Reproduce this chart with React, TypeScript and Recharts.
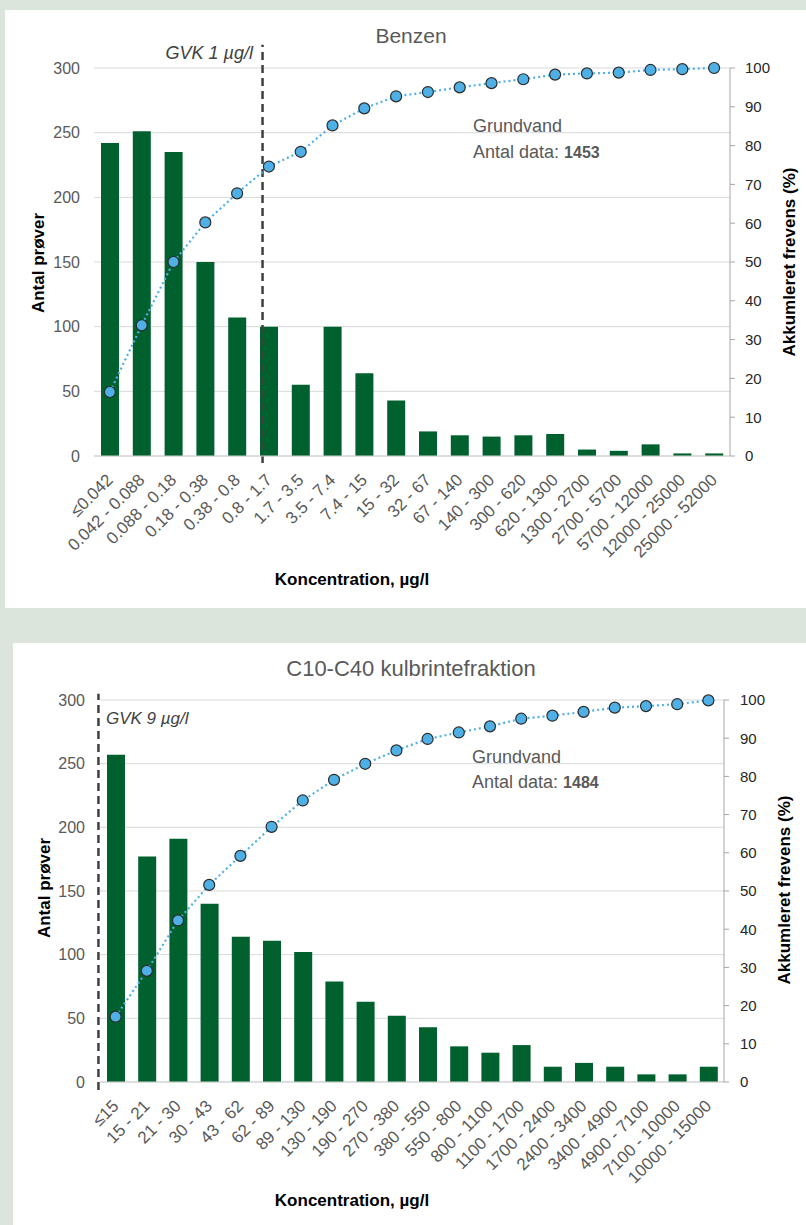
import {
  ComposedChart,
  Bar,
  Line,
  XAxis,
  YAxis,
  CartesianGrid,
  ReferenceLine,
} from 'recharts'

const FONT = '"Liberation Sans", Arial, sans-serif'
const BAR_GREEN = '#00612f'
const DOT_BLUE = '#4fb0e6'

// Benzen
const benzenCats = [
  '≤0.042', '0.042 - 0.088', '0.088 - 0.18', '0.18 - 0.38', '0.38 - 0.8',
  '0.8 - 1.7', '1.7 - 3.5', '3.5 - 7.4', '7.4 - 15', '15 - 32',
  '32 - 67', '67 - 140', '140 - 300', '300 - 620', '620 - 1300',
  '1300 - 2700', '2700 - 5700', '5700 - 12000', '12000 - 25000', '25000 - 52000',
]
const benzenCounts = [242, 251, 235, 150, 107, 100, 55, 100, 64, 43, 19, 16, 15, 16, 17, 5, 4, 9, 2, 2]
const benzenCum = [16.5, 33.7, 50.0, 60.2, 67.7, 74.6, 78.4, 85.2, 89.6, 92.7, 93.8, 95.0, 96.1, 97.1, 98.3, 98.6, 98.8, 99.5, 99.7, 100]

// C10-C40 kulbrintefraktion
const c10Cats = [
  '≤15', '15 - 21', '21 - 30', '30 - 43', '43 - 62', '62 - 89', '89 - 130',
  '130 - 190', '190 - 270', '270 - 380', '380 - 550', '550 - 800', '800 - 1100',
  '1100 - 1700', '1700 - 2400', '2400 - 3400', '3400 - 4900', '4900 - 7100',
  '7100 - 10000', '10000 - 15000',
]
const c10Counts = [257, 177, 191, 140, 114, 111, 102, 79, 63, 52, 43, 28, 23, 29, 12, 15, 12, 6, 6, 12]
const c10Cum = [17.1, 29.1, 42.3, 51.6, 59.2, 66.8, 73.7, 79.1, 83.3, 86.8, 89.8, 91.5, 93.1, 95.1, 95.9, 96.9, 98.0, 98.4, 98.9, 99.9]

const leftTicks = [0, 50, 100, 150, 200, 250, 300]
const rightTicks = [0, 10, 20, 30, 40, 50, 60, 70, 80, 90, 100]

function AngledTick(props: any) {
  const { x, y, payload } = props
  return (
    <g transform={`translate(${x + 4},${y + 23})`}>
      <text
        transform="rotate(-45)"
        textAnchor="end"
        fontSize={17}
        fontFamily={FONT}
        fill="#595959"
      >
        {payload.value}
      </text>
    </g>
  )
}

interface FreqChartProps {
  cats: string[]
  counts: number[]
  cum: number[]
  gvkPos: number
  gvkTop: number
  gvkBottom: number
  top: number
  height: number
  margin: { top: number; right: number; bottom: number; left: number }
  leftTickGap: number
  rightTickGap: number
}

function FreqChart({
  cats, counts, cum, gvkPos, gvkTop, gvkBottom, top, height, margin, leftTickGap, rightTickGap,
}: FreqChartProps) {
  // pos = band centre on a 0..n numeric scale, used only to place the GVK line
  const data = cats.map((c, i) => ({ cat: c, pos: i + 0.5, count: counts[i], cum: cum[i] }))
  return (
    <div style={{ position: 'absolute', left: 0, top }}>
      <ComposedChart width={806} height={height} data={data} margin={margin}>
        <CartesianGrid xAxisId="cat" yAxisId="left" vertical={false} stroke="#d9d9d9" />
        <XAxis
          xAxisId="cat"
          dataKey="cat"
          interval={0}
          height={100}
          tickLine={false}
          tickSize={0}
          axisLine={{ stroke: '#d0d0d0' }}
          tick={<AngledTick />}
        />
        <XAxis
          xAxisId="num"
          dataKey="pos"
          type="number"
          domain={[0, cats.length]}
          hide
          allowDataOverflow
        />
        <YAxis
          yAxisId="left"
          width={60}
          domain={[0, 300]}
          ticks={leftTicks}
          axisLine={false}
          tickLine={false}
          tickSize={6}
          tickMargin={leftTickGap}
          tick={{ fill: '#595959', fontSize: 16, fontFamily: FONT }}
        />
        <YAxis
          yAxisId="right"
          orientation="right"
          width={60}
          domain={[0, 100]}
          ticks={rightTicks}
          axisLine={{ stroke: '#a6a6a6' }}
          tickLine={{ stroke: '#a6a6a6' }}
          tickSize={5}
          tickMargin={rightTickGap}
          tick={{ fill: '#262626', fontSize: 15, fontFamily: FONT, textAnchor: 'start' }}
        />
        <Bar
          xAxisId="cat"
          yAxisId="left"
          dataKey="count"
          fill={BAR_GREEN}
          barSize={18}
          isAnimationActive={false}
        />
        <ReferenceLine
          xAxisId="num"
          yAxisId="left"
          segment={[{ x: gvkPos, y: gvkBottom }, { x: gvkPos, y: gvkTop }]}
          ifOverflow="visible"
          stroke="#404040"
          strokeWidth={2.5}
          strokeDasharray="8 5"
        />
        <Line
          xAxisId="cat"
          yAxisId="right"
          type="linear"
          dataKey="cum"
          stroke={DOT_BLUE}
          strokeWidth={2.2}
          strokeDasharray="2 3"
          dot={{ r: 5.5, fill: DOT_BLUE, stroke: '#2b2b2b', strokeWidth: 1.2, strokeDasharray: 'none' }}
          isAnimationActive={false}
        />
      </ComposedChart>
    </div>
  )
}

function Texts() {
  const gray = '#595959'
  return (
    <svg
      width={806}
      height={1225}
      style={{ position: 'absolute', left: 0, top: 0, pointerEvents: 'none' }}
      fontFamily={FONT}
    >
      {/* Benzen */}
      <text x={411} y={43} textAnchor="middle" fontSize={21} fill={gray}>Benzen</text>
      <text x={253} y={59} textAnchor="end" fontSize={18} fontStyle="italic" fill="#404040">GVK 1 µg/l</text>
      <text x={473} y={132} fontSize={18} fill={gray}>Grundvand</text>
      <text x={473} y={158} fontSize={18} fill={gray}>
        Antal data: <tspan fontWeight="bold" fontSize={16}>1453</tspan>
      </text>
      <text transform="translate(38,263) rotate(-90)" textAnchor="middle" dominantBaseline="central" fontSize={17} fontWeight="bold">Antal prøver</text>
      <text transform="translate(789,262) rotate(-90)" textAnchor="middle" dominantBaseline="central" fontSize={17} fontWeight="bold">Akkumleret frevens (%)</text>
      <text x={352} y={585} textAnchor="middle" fontSize={17} fontWeight="bold">Koncentration, µg/l</text>

      {/* C10-C40 */}
      <text x={411} y={676} textAnchor="middle" fontSize={22} fill={gray}>C10-C40 kulbrintefraktion</text>
      <text x={106} y={724} fontSize={17} fontStyle="italic" fill="#404040">GVK 9 µg/l</text>
      <text x={472} y={763} fontSize={18} fill={gray}>Grundvand</text>
      <text x={472} y={788} fontSize={18} fill={gray}>
        Antal data: <tspan fontWeight="bold" fontSize={16}>1484</tspan>
      </text>
      <text transform="translate(44,888) rotate(-90)" textAnchor="middle" dominantBaseline="central" fontSize={17} fontWeight="bold">Antal prøver</text>
      <text transform="translate(784,890) rotate(-90)" textAnchor="middle" dominantBaseline="central" fontSize={17} fontWeight="bold">Akkumleret frevens (%)</text>
      <text x={352} y={1206} textAnchor="middle" fontSize={17} fontWeight="bold">Koncentration, µg/l</text>
    </svg>
  )
}

export default function App() {
  return (
    <div
      style={{
        position: 'absolute',
        left: 0,
        top: 0,
        width: 806,
        height: 1225,
        background: '#dbe5dc',
        overflow: 'hidden',
        fontFamily: FONT,
      }}
    >
      <div style={{ position: 'absolute', left: 5, top: 10, width: 801, height: 598, background: '#fff' }} />
      <div style={{ position: 'absolute', left: 13, top: 643, width: 793, height: 582, background: '#fff' }} />
      <FreqChart
        cats={benzenCats}
        counts={benzenCounts}
        cum={benzenCum}
        gvkPos={5.3}
        gvkTop={318}
        gvkBottom={-5.5}
        top={10}
        height={598}
        margin={{ top: 58, right: 16, bottom: 52, left: 34 }}
        leftTickGap={8}
        rightTickGap={10}
      />
      <FreqChart
        cats={c10Cats}
        counts={c10Counts}
        cum={c10Cum}
        gvkPos={-0.05}
        gvkTop={305}
        gvkBottom={-6.3}
        top={643}
        height={582}
        margin={{ top: 57, right: 22, bottom: 43, left: 40 }}
        leftTickGap={9}
        rightTickGap={11}
      />
      <Texts />
    </div>
  )
}
